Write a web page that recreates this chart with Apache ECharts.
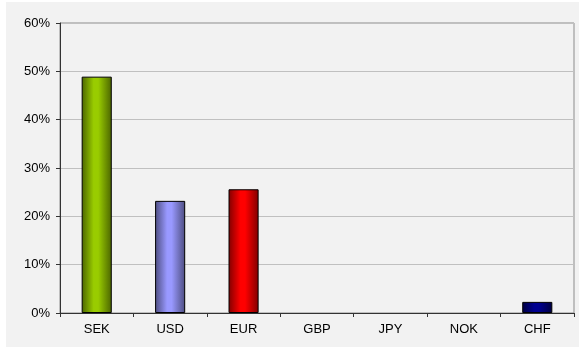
<!DOCTYPE html>
<html>
<head>
<meta charset="utf-8">
<script src="https://cdn.jsdelivr.net/npm/echarts@6/dist/echarts.min.js"></script>
<style>
  html, body { margin: 0; padding: 0; background: #ffffff; }
  #chart { position: absolute; left: 6px; top: 2px; width: 573px; height: 345px; }
</style>
</head>
<body>
<div id="chart"></div>
<script>
// Currency shares, in percent
const categories = ['SEK', 'USD', 'EUR', 'GBP', 'JPY', 'NOK', 'CHF'];
const shares = [48.9, 23.2, 25.6, 0, 0, 0, 2.3];
const yTicks = [0, 10, 20, 30, 40, 50, 60];

// Shaded "cylinder" fill per bar: dark edge, bright centre, dark edge
function shade(edge, mid) {
  return new echarts.graphic.LinearGradient(0, 0, 1, 0, [
    { offset: 0, color: edge },
    { offset: 0.4, color: mid },
    { offset: 0.55, color: mid },
    { offset: 1, color: edge }
  ]);
}
const fills = [
  shade('#4b6400', '#99cc00'),
  shade('#4d4d80', '#9999ff'),
  shade('#800000', '#ff0000'),
  shade('#444444', '#888888'),
  shade('#444444', '#888888'),
  shade('#444444', '#888888'),
  shade('#000040', '#000090')
];

const labelFont = 'Liberation Sans, Arial, sans-serif';

const chart = echarts.init(document.getElementById('chart'), null, { renderer: 'canvas' });
chart.setOption({
  backgroundColor: '#f2f2f2',
  animation: false,
  grid: {
    left: 54, right: 5, top: 21, bottom: 34,
    show: true, borderColor: '#8c8c8c', borderWidth: 1, backgroundColor: 'transparent'
  },
  xAxis: {
    type: 'category',
    data: categories,
    axisLine: { lineStyle: { color: '#333333', width: 1 } },
    axisTick: { show: true, length: 4, lineStyle: { color: '#333333' } },
    axisLabel: { color: '#000000', fontFamily: labelFont, fontSize: 13, margin: 10 }
  },
  yAxis: {
    type: 'value',
    min: yTicks[0],
    max: yTicks[yTicks.length - 1],
    interval: yTicks[1] - yTicks[0],
    axisLine: { show: true, lineStyle: { color: '#333333', width: 1 } },
    axisTick: { show: true, length: 4, lineStyle: { color: '#333333' } },
    axisLabel: { color: '#000000', fontFamily: labelFont, fontSize: 13, margin: 10, formatter: '{value}%' },
    splitLine: { show: true, lineStyle: { color: '#c0c0c0', width: 1 } }
  },
  series: [{
    type: 'bar',
    barWidth: '41%',
    data: shares.map((v, i) => ({
      value: v,
      itemStyle: { color: fills[i], borderColor: '#000000', borderWidth: v > 0 ? 1 : 0 }
    }))
  }]
});
</script>
</body>
</html>
